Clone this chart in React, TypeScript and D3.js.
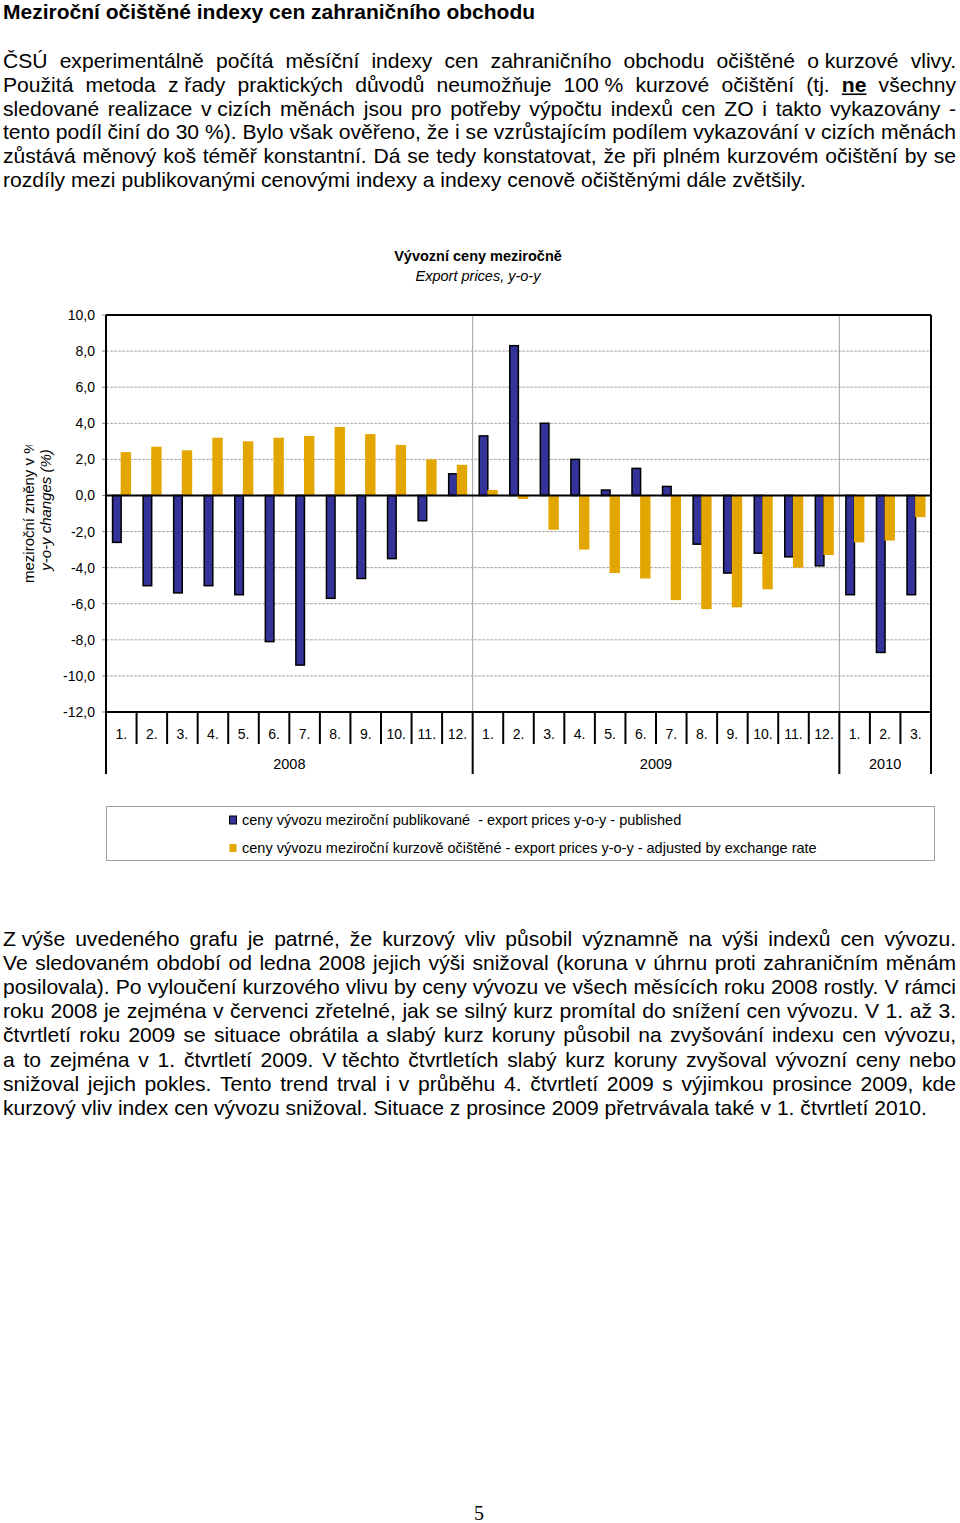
import React, { useEffect, useRef } from "react";
import * as d3 from "d3";

const categories = [
  "1.", "2.", "3.", "4.", "5.", "6.", "7.", "8.", "9.", "10.", "11.", "12.",
  "1.", "2.", "3.", "4.", "5.", "6.", "7.", "8.", "9.", "10.", "11.", "12.",
  "1.", "2.", "3.",
];
const years = ["2008", "2009", "2010"];
const yearMonths = [12, 12, 3];
const published = [
  -2.6, -5.0, -5.4, -5.0, -5.5, -8.1, -9.4, -5.7, -4.6, -3.5, -1.4, 1.2,
  3.3, 8.3, 4.0, 2.0, 0.3, 1.5, 0.5, -2.7, -4.3, -3.2, -3.4, -3.9,
  -5.5, -8.7, -5.5,
];
const adjusted = [
  2.4, 2.7, 2.5, 3.2, 3.0, 3.2, 3.3, 3.8, 3.4, 2.8, 2.0, 1.7,
  0.3, -0.2, -1.9, -3.0, -4.3, -4.6, -5.8, -6.3, -6.2, -5.2, -4.0, -3.3,
  -2.6, -2.5, -1.2,
];
const yTicks = [10, 8, 6, 4, 2, 0, -2, -4, -6, -8, -10, -12];

const pageTitle = "Meziroční očištěné indexy cen zahraničního obchodu";
const chartTitle = "Vývozní ceny meziročně";
const chartSubtitle = "Export prices, y-o-y";
const yLabel1 = "meziroční změny v %";
const yLabel2 = "y-o-y changes (%)";
const legendLabels = [
  "ceny vývozu meziroční publikované  - export prices y-o-y - published",
  "ceny vývozu meziroční kurzově očištěné - export prices y-o-y - adjusted by exchange rate",
];
const pageNumber = "5";

// "~" = non-stretching space, "**x**" = bold underlined word
const para1 = [
  "ČSÚ experimentálně počítá měsíční indexy cen zahraničního obchodu očištěné o~kurzové vlivy.",
  "Použitá metoda z~řady praktických důvodů neumožňuje 100~% kurzové očištění (tj. **ne** všechny",
  "sledované realizace v~cizích měnách jsou pro potřeby výpočtu indexů cen ZO i takto vykazovány -",
  "tento podíl činí do 30~%). Bylo však ověřeno, že i se vzrůstajícím podílem vykazování v cizích měnách",
  "zůstává měnový koš téměř konstantní. Dá se tedy konstatovat, že při plném kurzovém očištění by se",
  "rozdíly mezi publikovanými cenovými indexy a indexy cenově očištěnými dále zvětšily.",
];
const para2 = [
  "Z~výše uvedeného grafu je patrné, že kurzový vliv působil významně na výši indexů cen vývozu.",
  "Ve sledovaném období od ledna 2008 jejich výši snižoval (koruna v úhrnu proti zahraničním měnám",
  "posilovala). Po vyloučení kurzového vlivu by ceny vývozu ve všech měsících roku 2008 rostly. V rámci",
  "roku 2008 je zejména v červenci zřetelné, jak se silný kurz promítal do snížení cen vývozu. V 1. až 3.",
  "čtvrtletí roku 2009 se situace obrátila a slabý kurz koruny působil na zvyšování indexu cen vývozu,",
  "a to zejména v 1. čtvrtletí 2009. V~těchto čtvrtletích slabý kurz koruny zvyšoval vývozní ceny nebo",
  "snižoval jejich pokles. Tento trend trval i v průběhu 4. čtvrtletí 2009 s výjimkou prosince 2009, kde",
  "kurzový vliv index cen vývozu snižoval. Situace z prosince 2009 přetrvávala také v 1. čtvrtletí 2010.",
];

const FONT = "Arial, 'Liberation Sans', Helvetica, sans-serif";
const BLUE = "#333399";
const GOLD = "#E3A600";
const CF = 14.5; // chart font size

export default function App() {
  const ref = useRef<SVGSVGElement>(null);

  useEffect(() => {
    document.body.style.margin = "0";
    const svg = d3.select(ref.current!);
    svg.selectAll("*").remove();
    svg.attr("font-family", FONT);

    const measure = (txt: string, size: number, weight: string) => {
      const t = svg
        .append("text")
        .attr("font-size", size)
        .attr("font-weight", weight)
        .text(txt);
      const w = (t.node() as SVGTextElement).getComputedTextLength();
      t.remove();
      return w;
    };

    // Page title
    svg.append("text").attr("x", 3).attr("y", 19).attr("font-size", 21)
      .attr("font-weight", "bold").attr("fill", "#000").text(pageTitle);

    const BODY = 21.1;
    const LEFT = 3;
    const RIGHT = 956;
    const spaceW = measure("a a", BODY, "normal") - measure("aa", BODY, "normal");

    const drawPara = (lines: string[], y0: number, step: number) => {
      lines.forEach((line, li) => {
        const y = y0 + li * step;
        const words = line.split(" ").map((w) => {
          const bold = w.startsWith("**") && w.endsWith("**");
          return { text: (bold ? w.slice(2, -2) : w).replace(/~/g, " "), bold };
        });
        const widths = words.map((w) => measure(w.text, BODY, w.bold ? "bold" : "normal"));
        const total = d3.sum(widths);
        const justify = li < lines.length - 1;
        const gap = justify ? (RIGHT - LEFT - total) / (words.length - 1) : spaceW;
        let x = LEFT;
        words.forEach((w, i) => {
          svg.append("text").attr("x", x).attr("y", y).attr("font-size", BODY)
            .attr("font-weight", w.bold ? "bold" : "normal").attr("fill", "#000")
            .text(w.text);
          if (w.bold) {
            svg.append("line").attr("x1", x).attr("x2", x + widths[i])
              .attr("y1", y + 2.5).attr("y2", y + 2.5)
              .attr("stroke", "#000").attr("stroke-width", 1.6);
          }
          x += widths[i] + gap;
        });
      });
    };
    drawPara(para1, 68, 23.75);
    drawPara(para2, 946, 24.1);

    // Chart
    const L = 106, R = 931, T = 315, B = 712;
    const x = d3.scaleBand<number>().domain(d3.range(categories.length)).range([L, R]);
    const y = d3.scaleLinear().domain([-12, 10]).range([B, T]);
    const bw = x.bandwidth();

    svg.append("text").attr("x", 478).attr("y", 261).attr("text-anchor", "middle")
      .attr("font-size", CF).attr("font-weight", "bold").text(chartTitle);
    svg.append("text").attr("x", 478).attr("y", 281).attr("text-anchor", "middle")
      .attr("font-size", CF).attr("font-style", "italic").text(chartSubtitle);

    // gridlines
    svg.append("g").selectAll("line")
      .data(yTicks.filter((t) => t !== 10 && t !== -12 && t !== 0))
      .join("line")
      .attr("x1", L).attr("x2", R)
      .attr("y1", (d) => y(d)).attr("y2", (d) => y(d))
      .attr("stroke", "#a8a8a8").attr("stroke-width", 1)
      .attr("stroke-dasharray", "3,1");

    // y ticks + labels
    svg.append("g").selectAll("line").data(yTicks).join("line")
      .attr("x1", L - 4).attr("x2", L)
      .attr("y1", (d) => y(d)).attr("y2", (d) => y(d))
      .attr("stroke", "#888").attr("stroke-width", 1);
    svg.append("g").selectAll("text").data(yTicks).join("text")
      .attr("x", 95).attr("y", (d) => y(d) + 5)
      .attr("text-anchor", "end").attr("font-size", 14)
      .text((d) => d3.format(".1f")(d).replace(".", ",").replace("−", "-"));

    // year boundaries
    const boundaries: number[] = [];
    let acc = 0;
    yearMonths.forEach((m) => { acc += m; boundaries.push(acc); });
    const inner = boundaries.slice(0, -1);
    svg.append("g").selectAll("line").data(inner).join("line")
      .attr("x1", (d) => x(d)!).attr("x2", (d) => x(d)!)
      .attr("y1", T).attr("y2", B)
      .attr("stroke", "#a0a0a0").attr("stroke-width", 1);

    // bars
    const idx = d3.range(categories.length);
    svg.append("g").selectAll("rect").data(idx).join("rect")
      .attr("x", (i) => x(i)! + bw * 0.19 + 0.75)
      .attr("width", bw * 0.33 - 1.5)
      .attr("y", (i) => Math.min(y(published[i]), y(0)))
      .attr("height", (i) => Math.abs(y(published[i]) - y(0)))
      .attr("fill", BLUE).attr("stroke", "#000").attr("stroke-width", 1.5);
    svg.append("g").selectAll("rect").data(idx).join("rect")
      .attr("x", (i) => x(i)! + bw * 0.48)
      .attr("width", bw * 0.34)
      .attr("y", (i) => Math.min(y(adjusted[i]), y(0)))
      .attr("height", (i) => Math.abs(y(adjusted[i]) - y(0)))
      .attr("fill", GOLD);

    // zero line
    svg.append("line").attr("x1", L).attr("x2", R).attr("y1", y(0)).attr("y2", y(0))
      .attr("stroke", "#000").attr("stroke-width", 2);

    // frame
    const frame = svg.append("g").attr("stroke", "#000").attr("stroke-width", 2);
    frame.append("line").attr("x1", L).attr("x2", R).attr("y1", T).attr("y2", T);
    frame.append("line").attr("x1", L).attr("x2", R).attr("y1", B).attr("y2", B);
    frame.append("line").attr("x1", L).attr("x2", L).attr("y1", T).attr("y2", 774);
    frame.append("line").attr("x1", R).attr("x2", R).attr("y1", T).attr("y2", 774);

    // category separators
    frame.selectAll("line.sep").data(d3.range(1, categories.length)).join("line")
      .attr("class", "sep")
      .attr("x1", (i) => x(i)!).attr("x2", (i) => x(i)!)
      .attr("y1", B).attr("y2", (i) => (inner.includes(i) ? 774 : 744));

    // month labels
    svg.append("g").selectAll("text").data(idx).join("text")
      .attr("x", (i) => x(i)! + bw / 2).attr("y", 739)
      .attr("text-anchor", "middle").attr("font-size", 14)
      .text((i) => categories[i]);
    // year labels
    let start = 0;
    years.forEach((yr, k) => {
      const s = start, e = start + yearMonths[k];
      const cx = (x(s)! + (e >= categories.length ? R : x(e)!)) / 2;
      svg.append("text").attr("x", cx).attr("y", 769).attr("text-anchor", "middle")
        .attr("font-size", CF).text(yr);
      start = e;
    });

    // y axis title
    const defs = svg.append("defs");
    defs.append("clipPath").attr("id", "ylab-clip").append("rect")
      .attr("x", 0).attr("y", 445).attr("width", 90).attr("height", 300);
    svg.append("g").attr("clip-path", "url(#ylab-clip)")
      .append("text")
      .attr("transform", "translate(34,583) rotate(-90)")
      .attr("font-size", 15).text(yLabel1);
    svg.append("text")
      .attr("transform", "translate(51,510) rotate(-90)")
      .attr("text-anchor", "middle").attr("font-size", 15).attr("font-style", "italic")
      .text(yLabel2);

    // legend
    svg.append("rect").attr("x", 106.5).attr("y", 806.5).attr("width", 828).attr("height", 54)
      .attr("fill", "#fff").attr("stroke", "#a0a0a0").attr("stroke-width", 1);
    const colors = [BLUE, GOLD];
    legendLabels.forEach((lab, k) => {
      const ly = 820 + k * 28;
      svg.append("rect").attr("x", 229.5).attr("y", ly - 4).attr("width", 7).attr("height", 8)
        .attr("fill", colors[k]).attr("stroke", k === 0 ? "#000" : "none").attr("stroke-width", 1);
      svg.append("text").attr("x", 242).attr("y", ly + 5).attr("font-size", CF)
        .attr("xml:space", "preserve").style("white-space", "pre").text(lab);
    });

    // page number
    svg.append("text").attr("x", 479).attr("y", 1520).attr("text-anchor", "middle")
      .attr("font-family", "'Liberation Serif', 'Times New Roman', serif")
      .attr("font-size", 20).text(pageNumber);
  }, []);

  return (
    <svg
      ref={ref}
      width={960}
      height={1523}
      style={{ position: "absolute", left: 0, top: 0, background: "#fff" }}
    />
  );
}
